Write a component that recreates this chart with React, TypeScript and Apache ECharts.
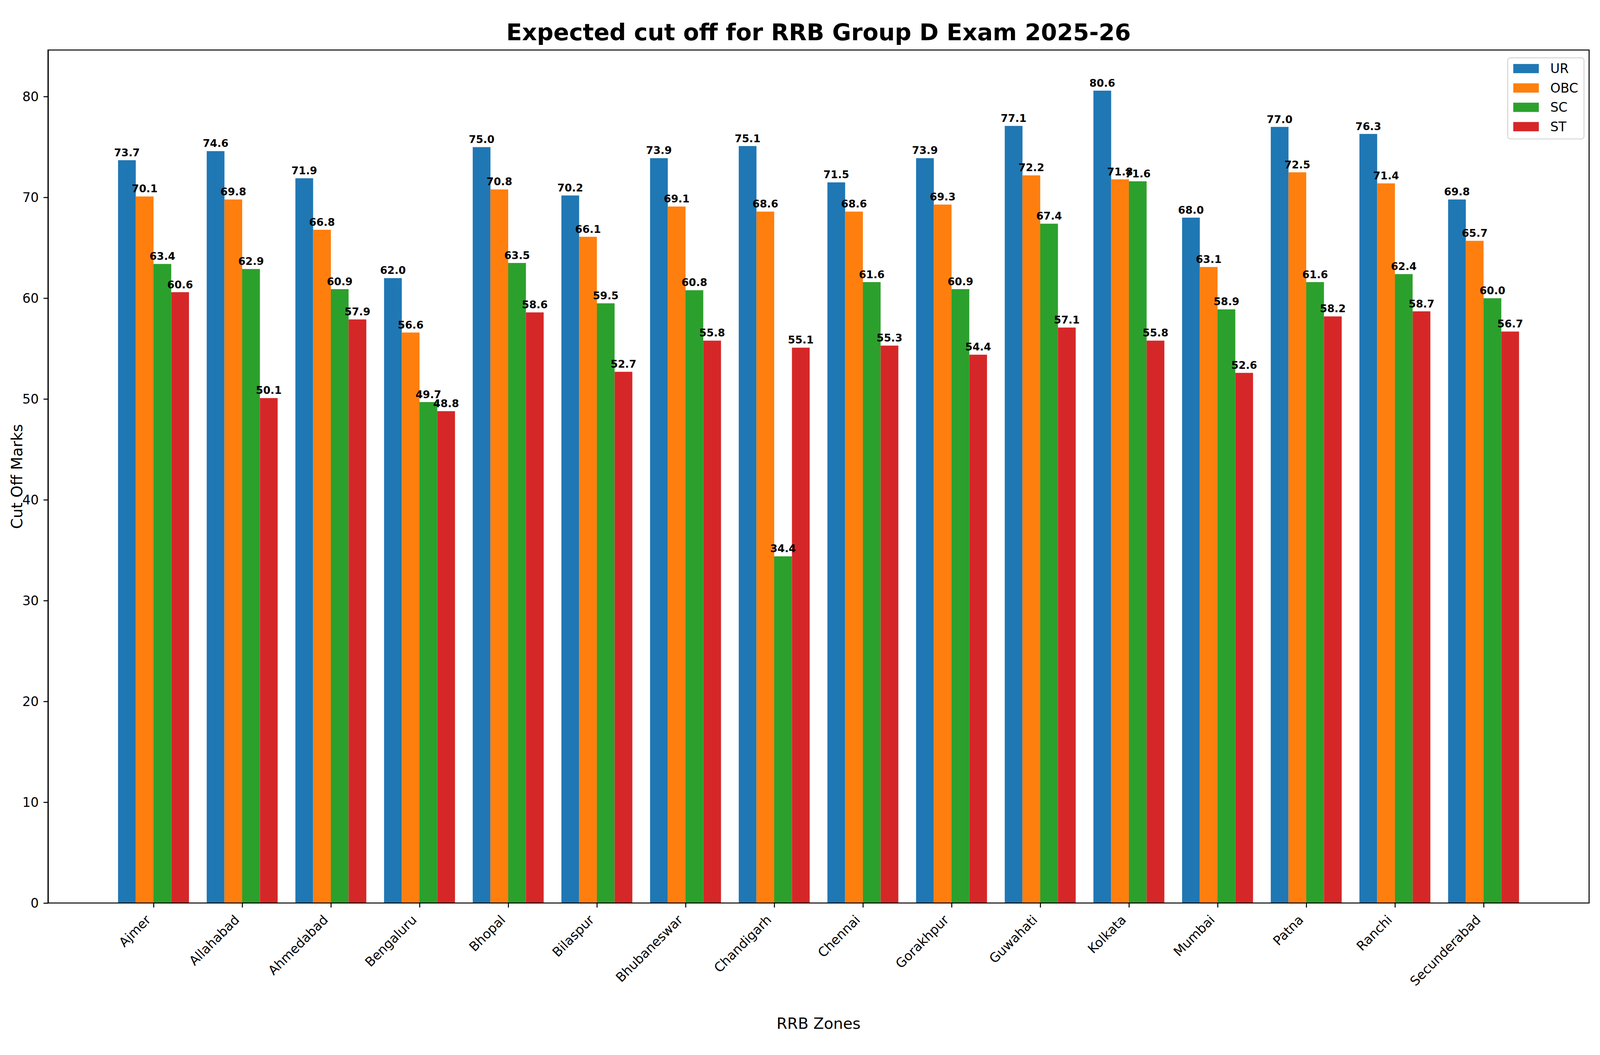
import React, { useEffect, useRef } from "react";
import * as echarts from "echarts";

const zones = [
  "Ajmer", "Allahabad", "Ahmedabad", "Bengaluru", "Bhopal", "Bilaspur",
  "Bhubaneswar", "Chandigarh", "Chennai", "Gorakhpur", "Guwahati", "Kolkata",
  "Mumbai", "Patna", "Ranchi", "Secunderabad",
];
const seriesNames = ["UR", "OBC", "SC", "ST"];
const urValues = [73.7, 74.6, 71.9, 62.0, 75.0, 70.2, 73.9, 75.1, 71.5, 73.9, 77.1, 80.6, 68.0, 77.0, 76.3, 69.8];
const obcValues = [70.1, 69.8, 66.8, 56.6, 70.8, 66.1, 69.1, 68.6, 68.6, 69.3, 72.2, 71.8, 63.1, 72.5, 71.4, 65.7];
const scValues = [63.4, 62.9, 60.9, 49.7, 63.5, 59.5, 60.8, 34.4, 61.6, 60.9, 67.4, 71.6, 58.9, 61.6, 62.4, 60.0];
const stValues = [60.6, 50.1, 57.9, 48.8, 58.6, 52.7, 55.8, 55.1, 55.3, 54.4, 57.1, 55.8, 52.6, 58.2, 58.7, 56.7];
const yTickValues = [0, 10, 20, 30, 40, 50, 60, 70, 80];
const colors = ["#1f77b4", "#ff7f0e", "#2ca02c", "#d62728"];

const titleText = "Expected cut off for RRB Group D Exam 2025-26";
const xAxisTitle = "RRB Zones";
const yAxisTitle = "Cut Off Marks";

const FONT = "DejaVu Sans";
// reference layout, in reference pixels (6600 x 2700)
const RW = 6600;
const RH = 2700;

export default function App() {
  const ref = useRef<HTMLDivElement>(null);
  const vw = (typeof window !== "undefined" && window.innerWidth) || RW;
  const vh = (typeof window !== "undefined" && window.innerHeight) || RH;
  const W = Math.min(vw, RW);
  const H = Math.min(vh, RH);

  useEffect(() => {
    const sx = W / RW;
    const sy = H / RH;
    const fs = Math.sqrt(sx * sy);
    const X = (v: number) => v * sx;
    const Y = (v: number) => v * sy;

    const PL = X(198);
    const PR = X(6555);
    const PT = Y(128);
    const PB = Y(2311);
    const XMIN = -1.19;
    const XMAX = 16.19;
    const UNIT = (PR - PL) / (XMAX - XMIN);
    const YMAX = 80.6 * 1.05;
    const LW = 3.3 * fs;
    const TICK = 14.6 * fs;

    const chart = echarts.init(ref.current!, null, { renderer: "svg" });
    const allValues = [urValues, obcValues, scValues, stValues];
    const g0Left = PL + (-0.5 - XMIN) * UNIT;
    const g0Width = zones.length * UNIT;
    const option: any = {
      animation: false,
      backgroundColor: "#ffffff",
      textStyle: { fontFamily: FONT },
      grid: [
        { left: g0Left, width: g0Width, top: PT, height: PB - PT, containLabel: false },
        {
          left: PL, width: PR - PL, top: PT, height: PB - PT, show: true,
          borderColor: "#000", borderWidth: LW, backgroundColor: "transparent", z: 5,
        },
      ],
      xAxis: [
        {
          type: "category", gridIndex: 0, data: zones,
          axisLine: { show: false },
          axisTick: { show: true, alignWithLabel: true, length: TICK, lineStyle: { color: "#000", width: LW } },
          axisLabel: {
            rotate: 45, margin: 30 * fs, fontSize: 42 * fs, color: "#000", fontFamily: FONT,
            interval: 0, padding: [0, 24 * fs, 0, 0],
          },
          splitLine: { show: false },
        },
        { type: "value", gridIndex: 1, min: 0, max: 1, show: false },
      ],
      yAxis: [
        { type: "value", gridIndex: 0, min: 0, max: YMAX, show: false },
        {
          type: "value", gridIndex: 1, min: 0, max: YMAX, interval: 10,
          axisLine: { show: true, lineStyle: { color: "#000", width: LW } },
          axisTick: { show: true, length: TICK, lineStyle: { color: "#000", width: LW }, customValues: yTickValues },
          axisLabel: { fontSize: 42 * fs, color: "#000", fontFamily: FONT, margin: 30 * fs, customValues: yTickValues },
          splitLine: { show: false },
        },
      ],
      legend: {
        orient: "vertical", right: X(66), top: Y(148),
        itemWidth: 83 * fs, itemHeight: 30 * fs, itemGap: 21 * fs,
        padding: [14 * fs, 19 * fs, 19 * fs, 18 * fs],
        backgroundColor: "rgba(255,255,255,0.8)",
        borderColor: "#d4d4d4", borderWidth: 3 * fs, borderRadius: 8 * fs,
        icon: "rect",
        data: seriesNames,
        textStyle: { fontSize: 42 * fs, color: "#000", fontFamily: FONT, padding: [0, 0, 0, 31 * fs] },
      },
      series: seriesNames.map((name, i) => ({
        name, type: "bar", xAxisIndex: 0, yAxisIndex: 0,
        data: allValues[i], barWidth: 0.2 * UNIT, barGap: "0%",
        itemStyle: { color: colors[i] },
        label: {
          show: true, position: "top", distance: 8 * fs,
          formatter: (p: any) => Number(p.value).toFixed(1),
          fontSize: 34 * fs, fontWeight: "bold", color: "#000", fontFamily: FONT,
        },
        z: 2,
      })),
      graphic: [
        {
          type: "text", x: (PL + PR) / 2, y: Y(82),
          style: { text: titleText, fontSize: 75 * fs, fontWeight: "bold", fontFamily: FONT, fill: "#000", align: "center", verticalAlign: "middle" },
        },
        {
          type: "text", x: (PL + PR) / 2, y: Y(2619),
          style: { text: xAxisTitle, fontSize: 50 * fs, fontFamily: FONT, fill: "#000", align: "center", verticalAlign: "middle" },
        },
        {
          type: "text", x: X(70), y: (PT + PB) / 2, rotation: Math.PI / 2,
          style: { text: yAxisTitle, fontSize: 50 * fs, fontFamily: FONT, fill: "#000", align: "center", verticalAlign: "middle" },
        },
      ],
    };
    chart.setOption(option);
    return () => chart.dispose();
  }, [W, H]);

  return (
    <div
      ref={ref}
      style={{ position: "absolute", left: 0, top: 0, width: W, height: H, background: "#fff" }}
    />
  );
}
